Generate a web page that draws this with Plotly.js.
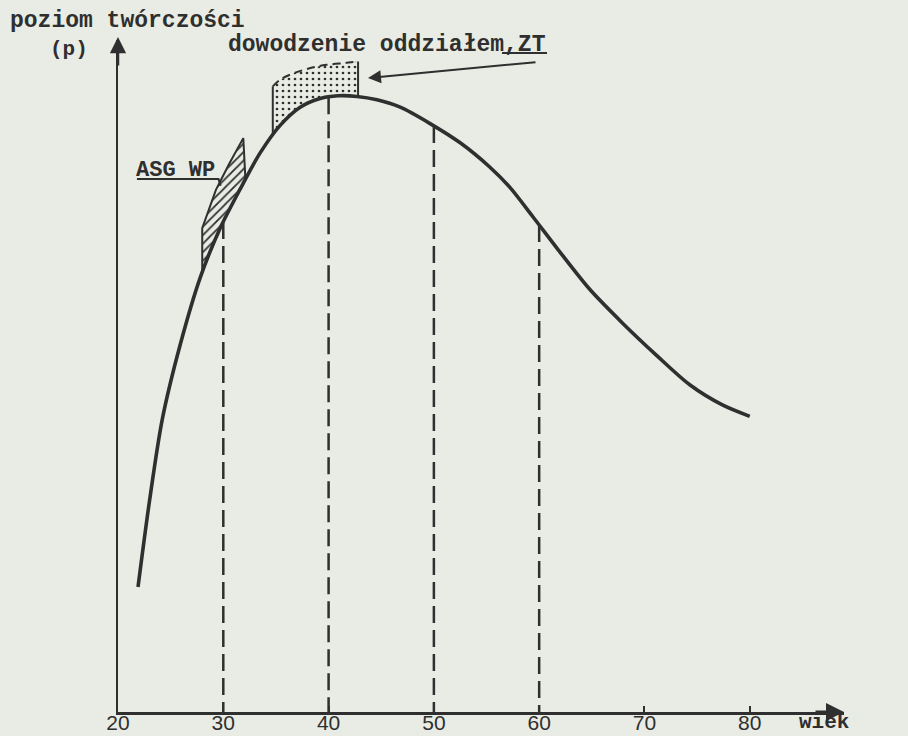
<!DOCTYPE html>
<html>
<head>
<meta charset="utf-8">
<script src="https://cdn.plot.ly/plotly-3.0.1.min.js"></script>
<style>
  html, body { margin: 0; padding: 0; background: #e9ece4; }
  #chart { width: 908px; height: 736px; }
</style>
</head>
<body>
<div id="chart"></div>
<script>
// ---- data ----
// creativity curve: age (years) vs creativity level (arbitrary units, 0..100 = axis height)
const ages  = [21.9, 23.0, 24.2, 25.9, 27.8, 29.7, 31.6, 33.5, 35.4, 37.3, 39.2, 40.9, 42.7, 44.6, 46.8, 49.6, 52.5, 55.3, 57.2, 59.4, 61.7, 64.8, 67.9, 71.2, 74.3, 77.4, 80.0];
const level = [18.6, 31.5, 43.5, 54.6, 64.6, 72.0, 77.8, 83.2, 87.3, 90.0, 91.3, 91.7, 91.6, 91.1, 90.0, 87.6, 84.7, 81.1, 78.1, 73.7, 69.0, 62.9, 57.9, 53.0, 48.7, 45.7, 44.0];

// dashed reference ages
const dashAges = [30, 40, 50, 60];

// hatched band "ASG WP"
const hatchAge   = [28.0, 29.7, 31.6, 32.1, 31.9, 30.6, 29.3, 28.0, 28.0];
const hatchLevel = [65.5, 72.0, 77.8, 79.3, 85.4, 81.7, 77.7, 72.0, 65.5];

// dotted cap "dowodzenie oddziałem, ZT"
const dotAge   = [34.7, 34.7, 35.4, 36.6, 38.2, 39.8, 41.7, 42.8, 42.8, 40.9, 39.2, 37.3, 35.4, 34.7];
const dotLevel = [85.8, 93.1, 94.1, 95.0, 95.8, 96.3, 96.6, 96.8, 91.6, 91.7, 91.3, 90.0, 87.3, 85.8];

// axis ticks
const tickVals   = [20, 30, 40, 50, 60, 70, 80];
const tickLabels = ['20', '30', '40', '50', '60', '70', '80'];

// text
const yTitle = 'poziom twórczości';
const yUnit = '(p)';
const xTitle = 'wiek';
const capLabel = 'dowodzenie oddziałem,ZT';
const bandLabel = 'ASG WP';

// ---- helpers ----
function levelAt(a) {
  for (let i = 0; i < ages.length - 1; i++) {
    if (a >= ages[i] && a <= ages[i + 1]) {
      const t = (a - ages[i]) / (ages[i + 1] - ages[i]);
      return level[i] + t * (level[i + 1] - level[i]);
    }
  }
  return null;
}

const ink = '#2f2f2f';
const dashX = [], dashY = [];
dashAges.forEach(a => { dashX.push(a, a, null); dashY.push(levelAt(a), 0, null); });

const traces = [
  // dashed verticals
  { x: dashX, y: dashY, mode: 'lines', line: { color: ink, width: 2.5, dash: '17px,7px' }, hoverinfo: 'skip' },
  // hatched band
  { x: hatchAge, y: hatchLevel, mode: 'lines', fill: 'toself',
    fillcolor: 'rgba(0,0,0,0)',
    fillpattern: { shape: '/', fgcolor: ink, bgcolor: 'rgba(0,0,0,0)', size: 6, solidity: 0.3 },
    line: { color: ink, width: 2 }, hoverinfo: 'skip' },
  // dotted cap fill
  { x: dotAge, y: dotLevel, mode: 'lines', fill: 'toself',
    fillcolor: 'rgba(0,0,0,0)',
    fillpattern: { shape: '.', fgcolor: ink, bgcolor: 'rgba(0,0,0,0)', size: 6, solidity: 0.16 },
    line: { color: 'rgba(0,0,0,0)', width: 0 }, hoverinfo: 'skip' },
  // dotted cap: left edge
  { x: dotAge.slice(0, 2), y: dotLevel.slice(0, 2), mode: 'lines', line: { color: ink, width: 2 }, hoverinfo: 'skip' },
  // dotted cap: top edge (dashed)
  { x: dotAge.slice(1, 8), y: dotLevel.slice(1, 8), mode: 'lines', line: { color: ink, width: 2, dash: '8px,5px', shape: 'spline' }, hoverinfo: 'skip' },
  // dotted cap: right edge
  { x: dotAge.slice(7, 9), y: dotLevel.slice(7, 9), mode: 'lines', line: { color: ink, width: 2 }, hoverinfo: 'skip' },
  // main curve
  { x: ages, y: level, mode: 'lines', line: { color: ink, width: 3.6, shape: 'spline', smoothing: 0.8 }, hoverinfo: 'skip' }
];

const mono = 'Liberation Mono, Courier New, monospace';
const layout = {
  width: 908, height: 736,
  margin: { l: 118, r: 64, t: 40, b: 24 },
  paper_bgcolor: '#e9ece4', plot_bgcolor: '#e9ece4',
  showlegend: false, hovermode: false,
  xaxis: {
    range: [20, 88.95], showgrid: false, zeroline: false,
    showline: true, linecolor: ink, linewidth: 3,
    tickmode: 'array', tickvals: tickVals, ticktext: tickLabels,
    ticks: 'inside', ticklen: 6, tickwidth: 2, tickcolor: ink,
    ticklabelstandoff: -10,
    tickfont: { family: 'Liberation Sans, Arial, sans-serif', size: 21, color: ink },
    automargin: false, fixedrange: true
  },
  yaxis: {
    range: [0, 100], showgrid: false, zeroline: false,
    showline: true, linecolor: ink, linewidth: 2.5,
    showticklabels: false, ticks: '', automargin: false, fixedrange: true
  },
  shapes: [
    // leader under "ASG WP"
    { type: 'path', xref: 'x', yref: 'y', path: 'M21.8,79.3 L29.55,79.3 L29.75,78.3', line: { color: ink, width: 2 } },
    // underline under "m,ZT"
    { type: 'line', xref: 'paper', yref: 'paper', x0: (502 - 118) / 726, x1: (547 - 118) / 726, y0: (712 - 53) / 672, y1: (712 - 53) / 672, line: { color: ink, width: 2 } }
  ],
  annotations: [
    { xref: 'paper', yref: 'paper', x: (127 - 118) / 726, y: (712 - 21) / 672, xanchor: 'center', yanchor: 'middle',
      text: '<b>' + yTitle + '</b>', showarrow: false, font: { family: mono, size: 23, color: ink } },
    { xref: 'paper', yref: 'paper', x: (69 - 118) / 726, y: (712 - 50) / 672, xanchor: 'center', yanchor: 'middle',
      text: '<b>' + yUnit + '</b>', showarrow: false, font: { family: mono, size: 21, color: ink } },
    { xref: 'paper', yref: 'paper', x: (387 - 118) / 726, y: (712 - 45) / 672, xanchor: 'center', yanchor: 'middle',
      text: '<b>' + capLabel + '</b>', showarrow: false, font: { family: mono, size: 23, color: ink } },
    { xref: 'paper', yref: 'paper', x: (175 - 118) / 726, y: (712 - 170) / 672, xanchor: 'center', yanchor: 'middle',
      text: '<b>' + bandLabel + '</b>', showarrow: false, font: { family: mono, size: 22, color: ink } },
    { xref: 'paper', yref: 'paper', x: (824 - 118) / 726, y: (712 - 722) / 672, xanchor: 'center', yanchor: 'middle',
      text: '<b>' + xTitle + '</b>', showarrow: false, font: { family: mono, size: 21, color: ink } },
    // arrow pointing at dotted cap
    { xref: 'paper', yref: 'paper', x: (368 - 118) / 726, y: (712 - 78) / 672, text: '', showarrow: true,
      ax: 169, ay: -16, arrowhead: 2, arrowsize: 1.3, arrowwidth: 2, arrowcolor: ink },
    // y-axis arrow
    { xref: 'paper', yref: 'paper', x: 0, y: (712 - 37) / 672, text: '', showarrow: true,
      ax: 0, ay: 30, arrowhead: 2, arrowsize: 1.3, arrowwidth: 2.5, arrowcolor: ink },
    // x-axis arrow
    { xref: 'paper', yref: 'paper', x: 1, y: 0, text: '', showarrow: true,
      ax: -30, ay: 0, arrowhead: 2, arrowsize: 1.2, arrowwidth: 3, arrowcolor: ink }
  ]
};

Plotly.newPlot('chart', traces, layout, { staticPlot: true, displayModeBar: false });
</script>
</body>
</html>
